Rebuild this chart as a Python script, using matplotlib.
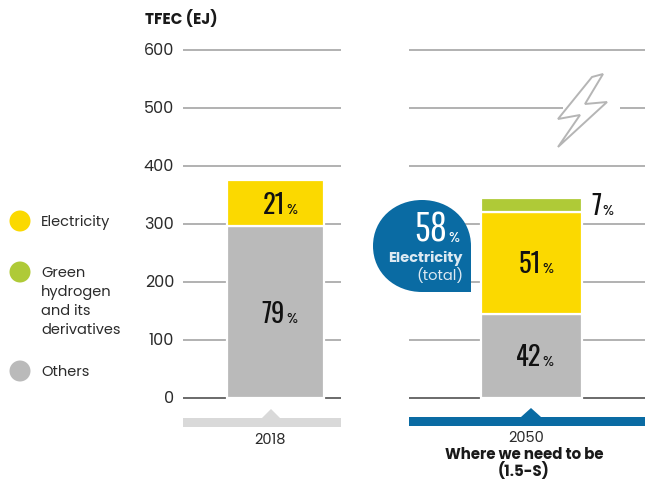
import matplotlib
matplotlib.use('Agg')
import logging
import matplotlib.pyplot as plt
from matplotlib.patches import Circle, PathPatch, Polygon
from matplotlib.path import Path
from matplotlib.transforms import Affine2D

logging.getLogger('matplotlib.font_manager').setLevel(logging.ERROR)

plt.rcParams['font.family'] = ['Poppins', 'Lato', 'DejaVu Sans']
NARROW = ['Oswald', 'Liberation Sans Narrow', 'Lato', 'DejaVu Sans']
THIN = ['Pathway Gothic One', 'Oswald', 'Lato', 'DejaVu Sans']

YELLOW = '#fbd900'
GREEN = '#afca37'
GRAY = '#bababa'
BLUE = '#0a6ba3'
TEXT = '#2b2b2b'

ticks = [0, 100, 200, 300, 400, 500, 600]
totals = [375, 345]
others_share = [79, 42]
electricity_share = [21, 51]
hydrogen_share = [0, 7]
legend_labels = ['Electricity', 'Green\nhydrogen\nand its\nderivatives', 'Others']

others = [t * s / 100 for t, s in zip(totals, others_share)]
electricity = [t * s / 100 for t, s in zip(totals, electricity_share)]
hydrogen = [t * s / 100 for t, s in zip(totals, hydrogen_share)]
elec_top = [a + b for a, b in zip(others, electricity)]

fig = plt.figure(figsize=(6.45, 4.8), dpi=100)
ax = fig.add_axes([0, 0, 1, 1])
ax.set_xlim(0, 645)
ax.set_ylim(-141.4, 686.2)
ax.axis('off')

# pixel coordinates, origin top left, for the decorations
px = Affine2D().scale(1, -1).translate(0, 480)

# gridlines for the two panels
for t in ticks:
    col = '#5f5f5f' if t == 0 else '#ababab'
    ax.hlines(t, 183, 341, color=col, lw=1.3, zorder=1)
    if t == 500:
        ax.hlines(t, 409, 563, color=col, lw=1.3, zorder=1)
        ax.hlines(t, 620, 645, color=col, lw=1.3, zorder=1)
    else:
        ax.hlines(t, 409, 645, color=col, lw=1.3, zorder=1)
    ax.text(174, t - 1, str(t), ha='right', va='center', fontsize=11.5, color=TEXT)

ax.text(145, 653, 'TFEC (EJ)', ha='left', va='center', fontsize=11,
        fontweight='bold', color='#1a1a1a')

# stacked bars
for i, x, w in [(0, 275.5, 97), (1, 531.5, 101)]:
    ax.bar(x, others[i], w, color=GRAY, edgecolor='white', lw=1.6, zorder=2)
    ax.bar(x, electricity[i], w, bottom=others[i], color=YELLOW,
           edgecolor='white', lw=1.6, zorder=2)
    if hydrogen[i]:
        ax.bar(x, hydrogen[i], w, bottom=elec_top[i], color=GREEN,
               edgecolor='white', lw=1.6, zorder=2)


def pct(x, y, value, size=19, small=10.5, color='#111111'):
    # big number with a smaller percent sign on the same baseline
    ax.text(x, y - 18, str(value), ha='right', va='baseline', fontsize=size,
            family=NARROW, color=color, zorder=5)
    ax.text(x + 1, y - 18, '%', ha='left', va='baseline', fontsize=small,
            color=color, zorder=5)


pct(285, others[0] / 2, others_share[0])
pct(285, others[0] + electricity[0] / 2, electricity_share[0])
pct(541, others[1] / 2, others_share[1])
pct(541, others[1] + electricity[1] / 2, electricity_share[1])
pct(601, elec_top[1] + hydrogen[1] / 2, hydrogen_share[1])

# callout for total electricity
k = 0.5523 * 49
cx, cy = 422, 246
drop = Path(
    [(cx, cy - 46), (cx + k, cy - 46), (471, cy - k), (471, cy),
     (471, 292), (cx, 292),
     (cx - k, 292), (373, cy + k), (373, cy),
     (373, cy - k), (cx - k, cy - 46), (cx, cy - 46), (cx, cy - 46)],
    [Path.MOVETO, Path.CURVE4, Path.CURVE4, Path.CURVE4,
     Path.LINETO, Path.LINETO,
     Path.CURVE4, Path.CURVE4, Path.CURVE4,
     Path.CURVE4, Path.CURVE4, Path.CURVE4, Path.CLOSEPOLY])
ax.add_patch(PathPatch(drop, fc=BLUE, ec='none', transform=px, zorder=3))
ax.text(447, 242, str(electricity_share[1] + hydrogen_share[1]), transform=px,
        ha='right', va='baseline', fontsize=30, color='white', family=THIN, zorder=5)
ax.text(448, 242, '%', transform=px, ha='left', va='baseline', fontsize=10.5,
        color='white', zorder=5)
ax.text(463, 258, 'Electricity', transform=px, ha='right', va='center',
        fontsize=10.5, fontweight='bold', color='#dce9f2', zorder=5)
ax.text(463, 276, '(total)', transform=px, ha='right', va='center',
        fontsize=10.5, color='#dce9f2', zorder=5)

# lightning bolt outline
bolt = [(592, 77), (603, 74), (585, 104), (607, 102), (558, 147), (580, 115), (558, 119)]
ax.add_patch(Polygon(bolt, closed=True, fc='white', ec='#b5b5b5', lw=1.4,
                     transform=px, zorder=2))

# legend
for y, col, label, ty in [(221, YELLOW, legend_labels[0], 223),
                          (272, GREEN, legend_labels[1], 302),
                          (371, GRAY, legend_labels[2], 373)]:
    ax.add_patch(Circle((20, y), 10.5, fc=col, ec='none', transform=px))
    ax.text(41, ty, label, transform=px, ha='left', va='center', fontsize=10.5,
            color=TEXT, linespacing=1.36)

# bands under the panels
ax.add_patch(Polygon([(183, 427), (183, 418), (262, 418), (271, 409), (280, 418),
                      (341, 418), (341, 427)], fc='#d9d9d9', ec='none', transform=px))
ax.add_patch(Polygon([(409, 426), (409, 417), (521, 417), (531, 408), (541, 417),
                      (645, 417), (645, 426)], fc=BLUE, ec='none', transform=px))

ax.text(270, 440, '2018', transform=px, ha='center', va='center', fontsize=10.5, color=TEXT)
ax.text(526, 439, '2050', transform=px, ha='center', va='center', fontsize=10.5, color=TEXT)
ax.text(524, 455, 'Where we need to be', transform=px, ha='center', va='center',
        fontsize=10.8, fontweight='bold', color='#1a1a1a')
ax.text(524, 471, '(1.5-S)', transform=px, ha='center', va='center',
        fontsize=10.8, fontweight='bold', color='#1a1a1a')

fig.savefig('out.png', dpi=100)
